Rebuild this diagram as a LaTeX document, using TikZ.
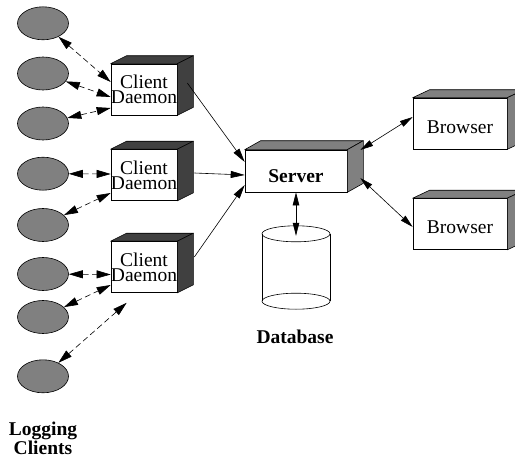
\documentclass[tikz,border=0pt]{standalone}
\usepackage{fontspec}
\setmainfont{Liberation Serif}
\usetikzlibrary{shapes.geometric,arrows.meta}

\definecolor{darkface}{HTML}{404040}
\definecolor{midface}{HTML}{808080}
\definecolor{clientfill}{HTML}{808080}

% top and right faces of a box drawn in oblique projection
\newcommand\boxfaces[4]{%
  \filldraw[fill=#2, line width=0.6pt, line join=round]
    (#1.north west) -- ++(#3,#4) -- ([shift={(#3,#4)}]#1.north east) -- (#1.north east) -- cycle;
  \filldraw[fill=#2, line width=0.6pt, line join=round]
    (#1.north east) -- ++(#3,#4) -- ([shift={(#3,#4)}]#1.south east) -- (#1.south east) -- cycle;
}

\tikzset{
  client/.style={ellipse, draw, fill=clientfill, minimum width=51pt, minimum height=33pt,
    inner sep=0pt, line width=0.6pt},
  daemonbox/.style={draw, fill=white, minimum width=66pt, minimum height=51pt, inner sep=0pt,
    align=center, font=\fontsize{19.5}{15}\selectfont, line width=0.6pt},
  serverbox/.style={draw, fill=white, minimum width=102pt, minimum height=42pt, inner sep=0pt,
    font=\fontsize{19.5}{22}\selectfont\bfseries, text height=22pt, text depth=0pt, line width=0.6pt},
  browserbox/.style={draw, fill=white, minimum width=94pt, minimum height=51pt, inner sep=0pt,
    font=\fontsize{19.5}{22}\selectfont, text height=19pt, text depth=0pt, line width=0.6pt},
  dbbody/.style={minimum width=68pt, minimum height=67pt, inner sep=0pt},
  caption/.style={font=\fontsize{19.5}{19}\selectfont\bfseries, align=center, inner sep=0pt},
  dasharrow/.style={line width=0.6pt, dash pattern=on 6pt off 3.5pt,
    {Triangle[length=14pt,width=8pt]}-{Triangle[length=14pt,width=8pt]}},
  onearrow/.style={line width=0.6pt, -{Triangle[length=14pt,width=7pt]}},
  twoarrow/.style={line width=0.6pt,
    {Triangle[length=13pt,width=6.5pt]}-{Triangle[length=13pt,width=6.5pt]}},
}

\begin{document}
\begin{tikzpicture}[x=1pt, y=-1pt]
  \useasboundingbox (0,0) rectangle (515,463);
  \clip (0,0) rectangle (515,463);

  % logging clients
  \node[client] (e1) at (43,23.3) {};
  \node[client] (e2) at (43,73.5) {};
  \node[client] (e3) at (43,123.5) {};
  \node[client] (e4) at (43,173.7) {};
  \node[client] (e5) at (43,225) {};
  \node[client] (e6) at (43,274) {};
  \node[client] (e7) at (43,317) {};
  \node[client] (e8) at (43,376.3) {};

  % client daemons
  \node[daemonbox] (d1) at (144,89.5) {Client\\Daemon};
  \node[daemonbox] (d2) at (144,175) {Client\\Daemon};
  \node[daemonbox] (d3) at (144,267) {Client\\Daemon};
  \boxfaces{d1}{darkface}{16}{-8}
  \boxfaces{d2}{darkface}{16}{-8}
  \boxfaces{d3}{darkface}{16}{-8}

  % server
  \node[serverbox] (srv) at (296,171) {Server};
  \boxfaces{srv}{midface}{16}{-9}

  % browsers
  \node[browserbox] (b1) at (460,123.5) {Browser};
  \node[browserbox] (b2) at (460,224) {Browser};
  \boxfaces{b1}{midface}{17}{-8}
  \boxfaces{b2}{midface}{17}{-8}

  % database cylinder
  \node[dbbody] (db) at (296,267.5) {};
  \draw[line width=0.6pt] (db.north west) -- (db.south west);
  \draw[line width=0.6pt] (db.north east) -- (db.south east);
  \draw[line width=0.6pt] (db.north) ellipse [x radius=34pt, y radius=8pt];
  \draw[line width=0.6pt] (db.south) ellipse [x radius=34pt, y radius=8pt];

  % captions
  \node[caption, anchor=base] (dblabel) at (295,343) {Database};
  \node[caption, anchor=north] (loglabel) at (43,421.5) {Logging\\Clients};

  % client <-> daemon links
  \draw[dasharrow] (e1) -- ([yshift=7.5pt]d1.west);
  \draw[dasharrow] (e2) -- ([yshift=-7.5pt]d1.west);
  \draw[dasharrow] (e3) -- ([yshift=-18.5pt]d1.west);
  \draw[dasharrow] (e4) -- ([yshift=1pt]d2.west);
  \draw[dasharrow] (e5) -- ([yshift=-18pt]d2.west);
  \draw[dasharrow] (e6) -- ([yshift=-7.5pt]d3.west);
  \draw[dasharrow] (e7) -- ([yshift=-18pt]d3.west);
  \draw[dasharrow] (e8) -- ([xshift=16pt,yshift=-10pt]d3.south west);

  % daemon -> server
  \draw[onearrow] ([xshift=10pt,yshift=6.5pt]d1.east) -- ([yshift=9pt]srv.west);
  \draw[onearrow] ([xshift=17pt,yshift=2pt]d2.east) -- ([yshift=-4pt]srv.west);
  \draw[onearrow] ([xshift=17pt,yshift=10pt]d3.east) -- ([yshift=-14pt]srv.west);

  % server <-> browsers, server <-> database
  \draw[twoarrow] ([xshift=13pt,yshift=21pt]srv.east) -- ([yshift=6.5pt]b1.west);
  \draw[twoarrow] ([xshift=13pt,yshift=-7pt]srv.east) -- ([yshift=-3pt]b2.west);
  \draw[twoarrow] (srv.south) -- ([yshift=-2pt]db.north);
\end{tikzpicture}
\end{document}
